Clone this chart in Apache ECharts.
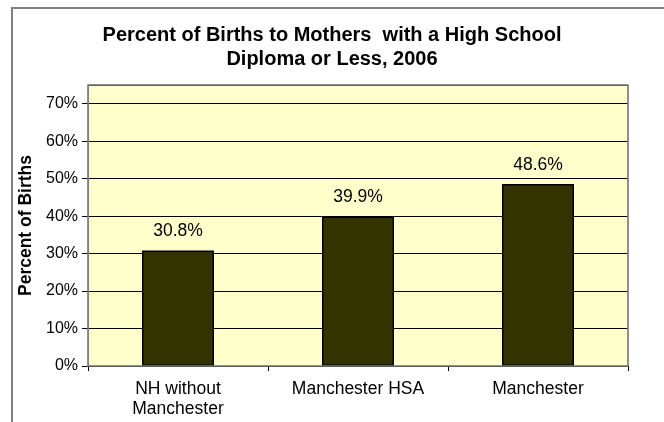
<!DOCTYPE html>
<html>
<head>
<meta charset="utf-8">
<script src="https://cdn.jsdelivr.net/npm/echarts@6/dist/echarts.min.js"></script>
<style>
html,body{margin:0;padding:0;background:#fff;}
#chart{width:664px;height:422px;}
</style>
</head>
<body>
<div id="chart"></div>
<script>
const categories = ['NH without\nManchester', 'Manchester HSA', 'Manchester'];
const values = [30.8, 39.9, 48.6];
const titleText = 'Percent of Births to Mothers  with a High School\nDiploma or Less, 2006';
const yAxisName = 'Percent of Births';

const chart = echarts.init(document.getElementById('chart'), null, {renderer: 'canvas'});
const FONT = '"Liberation Sans", Arial, sans-serif';
chart.setOption({
  animation: false,
  backgroundColor: '#ffffff',
  title: {
    text: titleText,
    left: 327,
    top: 18,
    textAlign: 'center',
    textStyle: {fontFamily: FONT, fontSize: 20, fontWeight: 'bold', color: '#000', lineHeight: 24}
  },
  grid: {
    left: 88, right: 36, top: 85, bottom: 56,
    show: true, backgroundColor: '#FFFFCC', borderColor: '#808080', borderWidth: 1
  },
  xAxis: {
    type: 'category',
    data: categories,
    axisLine: {lineStyle: {color: '#000', width: 1}},
    axisTick: {show: true, length: 5, lineStyle: {color: '#000'}, alignWithLabel: false},
    axisLabel: {fontFamily: FONT, fontSize: 17.5, color: '#000', margin: 13, lineHeight: 20}
  },
  yAxis: {
    type: 'value',
    min: 0, max: 75, interval: 10,
    name: yAxisName,
    nameLocation: 'middle',
    nameGap: 51,
    nameTextStyle: {fontFamily: FONT, fontSize: 17.5, fontWeight: 'bold', color: '#000'},
    axisLine: {show: true, lineStyle: {color: '#808080', width: 1}},
    axisTick: {show: true, length: 6, lineStyle: {color: '#000'}},
    axisLabel: {fontFamily: FONT, fontSize: 16, color: '#000', margin: 10, formatter: '{value}%', showMaxLabel: false},
    splitLine: {show: true, lineStyle: {color: '#000', width: 1}}
  },
  series: [{
    type: 'bar',
    data: values,
    barWidth: '40%',
    itemStyle: {color: '#333300', borderColor: '#000', borderWidth: 1.5},
    label: {
      show: true, position: 'top', distance: 10,
      fontFamily: FONT, fontSize: 17.5, color: '#000',
      formatter: p => p.value.toFixed(1) + '%'
    }
  }],
  graphic: [
    {type: 'rect', z: 100, shape: {x: 88, y: 85, width: 540, height: 281}, style: {fill: 'none', stroke: '#808080', lineWidth: 1.5}, silent: true},
    {type: 'rect', z: 100, shape: {x: 12, y: 8, width: 700, height: 500}, style: {fill: 'none', stroke: '#808080', lineWidth: 2}, silent: true}
  ]
});
</script>
</body>
</html>
